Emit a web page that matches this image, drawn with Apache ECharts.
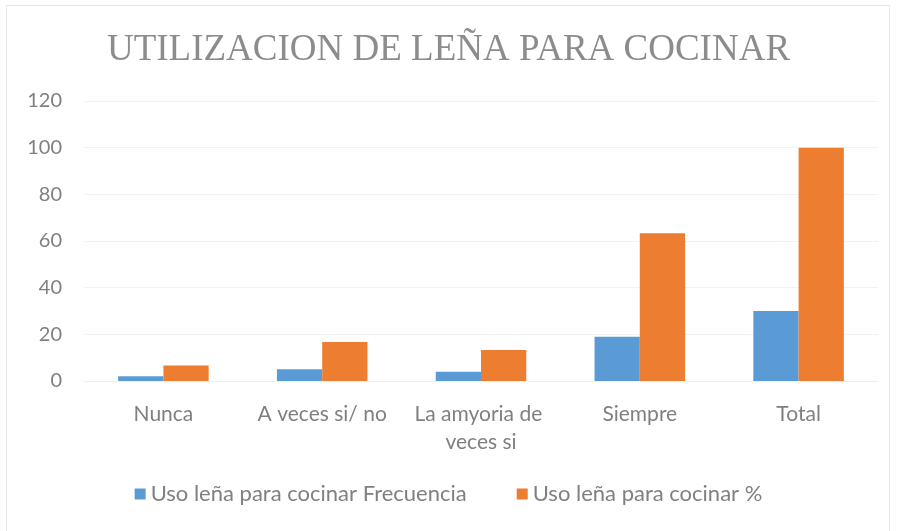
<!DOCTYPE html>
<html>
<head>
<meta charset="utf-8">
<script src="https://cdn.jsdelivr.net/npm/echarts@6/dist/echarts.min.js"></script>
<style>
  html, body { margin: 0; padding: 0; background: #fff; }
  #main { width: 897px; height: 531px; }
</style>
</head>
<body>
<div id="main"></div>
<script>
var categories = ['Nunca', 'A veces si/ no', 'La amyoria de veces si', 'Siempre', 'Total'];
var frecuencia = [2, 5, 4, 19, 30];
var porcentaje = [6.67, 16.67, 13.33, 63.33, 100];
var seriesNames = ['Uso leña para cocinar Frecuencia', 'Uso leña para cocinar %'];

var chart = echarts.init(document.getElementById('main'));
var textGray = '#808080';
chart.setOption({
  animation: false,
  graphic: [{
    type: 'rect',
    shape: { x: 6.5, y: 5.5, width: 883, height: 530 },
    style: { fill: 'none', stroke: '#e6e6e6', lineWidth: 1 }
  }],
  title: {
    text: 'UTILIZACION DE LEÑA PARA COCINAR',
    left: 'center',
    top: 27,
    textStyle: {
      fontFamily: 'Liberation Serif',
      fontSize: 37,
      fontWeight: 'normal',
      color: '#8c8c8c'
    }
  },
  grid: { left: 84, right: 19, top: 101, bottom: 150 },
  legend: {
    bottom: 21,
    left: 'center',
    itemWidth: 11,
    itemHeight: 11,
    itemGap: 50,
    icon: 'rect',
    textStyle: { fontFamily: 'Lato', fontSize: 22, color: textGray },
    data: seriesNames
  },
  xAxis: {
    type: 'category',
    data: categories,
    axisLine: { show: true, lineStyle: { color: '#efefef' } },
    axisTick: { show: false },
    axisLabel: {
      fontFamily: 'Lato',
      fontSize: 21,
      color: textGray,
      margin: 19,
      lineHeight: 28,
      width: 150,
      overflow: 'break',
      interval: 0
    }
  },
  yAxis: {
    type: 'value',
    min: 0,
    max: 120,
    interval: 20,
    axisLine: { show: false },
    axisTick: { show: false },
    splitLine: { lineStyle: { color: '#f2f2f2' } },
    axisLabel: { fontFamily: 'Lato', fontSize: 20, color: textGray, margin: 22 }
  },
  series: [
    {
      name: seriesNames[0],
      type: 'bar',
      data: frecuencia,
      barGap: '0%',
      barCategoryGap: '43%',
      itemStyle: { color: '#5b9bd5' }
    },
    {
      name: seriesNames[1],
      type: 'bar',
      data: porcentaje,
      barGap: '0%',
      barCategoryGap: '43%',
      itemStyle: { color: '#ed7d31' }
    }
  ]
});
</script>
</body>
</html>
